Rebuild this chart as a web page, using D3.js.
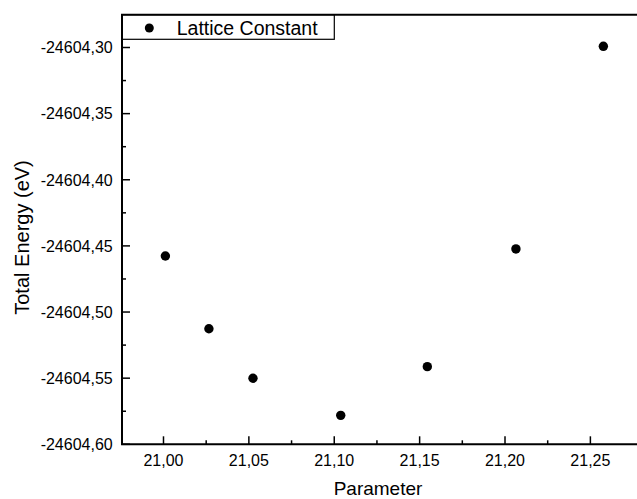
<!DOCTYPE html>
<html>
<head>
<meta charset="utf-8">
<script src="https://cdn.jsdelivr.net/npm/d3@7"></script>
<style>
  html, body { margin: 0; padding: 0; background: #fff; }
  svg { display: block; }
  text { font-family: "Liberation Sans", Arial, sans-serif; fill: #000; }
</style>
</head>
<body>
<svg id="chart" width="637" height="499"></svg>
<script>
// ---- data ----
const seriesName = "Lattice Constant";
const xValues = [21.0011, 21.0266, 21.0524, 21.1038, 21.1545, 21.2064, 21.2576];
const yValues = [-24604.4576, -24604.5126, -24604.5501, -24604.5781, -24604.5413, -24604.4523, -24604.2991];
const xMajorTicks = [21.00, 21.05, 21.10, 21.15, 21.20, 21.25];
const xMinorTicks = [21.025, 21.075, 21.125, 21.175, 21.225];
const yMajorTicks = [-24604.60, -24604.55, -24604.50, -24604.45, -24604.40, -24604.35, -24604.30];
const yMinorTicks = [-24604.575, -24604.525, -24604.475, -24604.425, -24604.375, -24604.325];
const xTitle = "Parameter";
const yTitle = "Total Energy (eV)";

// ---- layout ----
const svg = d3.select("#chart");
const L = 122, R = 637, T = 14.7, B = 444.3;

const x = d3.scaleLinear().domain([20.9757, 21.2773]).range([L, R]);
const y = d3.scaleLinear().domain([-24604.60, -24604.30]).range([B, 47.5]);

const fmt = v => d3.format(".2f")(v).replace("\u2212", "-").replace(".", ",");

// bottom axis ticks (inward)
const gx = svg.append("g");
gx.selectAll("line.maj").data(xMajorTicks).join("line")
  .attr("x1", d => x(d)).attr("x2", d => x(d))
  .attr("y1", B).attr("y2", B - 8)
  .attr("stroke", "#000").attr("stroke-width", 1.5);
gx.selectAll("line.min").data(xMinorTicks).join("line")
  .attr("x1", d => x(d)).attr("x2", d => x(d))
  .attr("y1", B).attr("y2", B - 4)
  .attr("stroke", "#000").attr("stroke-width", 1.5);
gx.selectAll("text").data(xMajorTicks).join("text")
  .attr("x", d => x(d)).attr("y", 465.7)
  .attr("text-anchor", "middle").attr("font-size", 16)
  .text(fmt);

// left axis ticks (inward)
const gy = svg.append("g");
gy.selectAll("line.maj").data(yMajorTicks).join("line")
  .attr("x1", L).attr("x2", L + 8)
  .attr("y1", d => y(d)).attr("y2", d => y(d))
  .attr("stroke", "#000").attr("stroke-width", 1.5);
gy.selectAll("line.min").data(yMinorTicks).join("line")
  .attr("x1", L).attr("x2", L + 4)
  .attr("y1", d => y(d)).attr("y2", d => y(d))
  .attr("stroke", "#000").attr("stroke-width", 1.5);
gy.selectAll("text").data(yMajorTicks).join("text")
  .attr("x", 112.7).attr("y", d => y(d)).attr("dy", "0.36em")
  .attr("text-anchor", "end").attr("font-size", 16)
  .text(fmt);

// frame lines: left, bottom, top
svg.append("line").attr("x1", L).attr("x2", L).attr("y1", T).attr("y2", B)
  .attr("stroke", "#000").attr("stroke-width", 2);
svg.append("line").attr("x1", L - 1).attr("x2", R).attr("y1", B).attr("y2", B)
  .attr("stroke", "#000").attr("stroke-width", 2);
svg.append("line").attr("x1", L - 1).attr("x2", R).attr("y1", T).attr("y2", T)
  .attr("stroke", "#000").attr("stroke-width", 2);

// points
svg.append("g").selectAll("circle").data(xValues.map((v, i) => [v, yValues[i]])).join("circle")
  .attr("cx", d => x(d[0])).attr("cy", d => y(d[1])).attr("r", 4.7)
  .attr("fill", "#000");

// legend
svg.append("rect").attr("x", L).attr("y", T).attr("width", 334.3 - L).attr("height", 39.3 - T)
  .attr("fill", "none").attr("stroke", "#000").attr("stroke-width", 1.2);
svg.append("circle").attr("cx", 149.3).attr("cy", 28).attr("r", 4.5).attr("fill", "#000");
svg.append("text").attr("x", 176.7).attr("y", 34.7).attr("font-size", 19.5).text(seriesName);

// axis titles
svg.append("text").attr("x", (L + R) / 2 - 1.5).attr("y", 495.3)
  .attr("text-anchor", "middle").attr("font-size", 19).text(xTitle);
svg.append("text").attr("transform", `translate(28.5,237.5) rotate(-90)`)
  .attr("text-anchor", "middle").attr("font-size", 20).text(yTitle);
</script>
</body>
</html>
